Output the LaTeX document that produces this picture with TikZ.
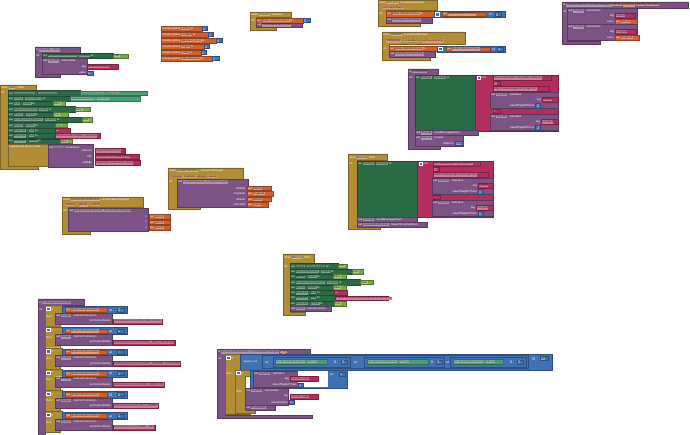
\documentclass[tikz,border=0pt]{standalone}
\usepackage{fontspec}
\setmainfont{Liberation Sans}
\definecolor{cEvt}{HTML}{B18E35}
\definecolor{cProc}{HTML}{7C5385}
\definecolor{cComp}{HTML}{2B6A46}
\definecolor{cGet}{HTML}{4A9E74}
\definecolor{cTxt}{HTML}{B32D5E}
\definecolor{cVar}{HTML}{D05F2D}
\definecolor{cMath}{HTML}{3F71B5}
\definecolor{cLogic}{HTML}{77AB41}
\newcounter{lb}
\newcommand\cur{cProc}
\newcommand\fd[1]{{\setlength\fboxsep{.35pt}\colorbox{\cur!62!white}{\color{black!85}#1}}}
\newcommand\fv[1]{{\setlength\fboxsep{.35pt}\colorbox{cVar!65!white}{\color{black!85}#1}}}
\newcommand\blk[6]{\filldraw[fill=#5,draw=#5!70!black,line width=.2pt] (#1,#2) rectangle ++(#3,#4);
  \stepcounter{lb}\node[lbl,anchor=west] (b\arabic{lb}) at ({#1+.8},{#2+min(#4/2,2.6)}) {\renewcommand\cur{#5}#6};}
\newcommand\hd[4]{\stepcounter{lb}\node[lbl,anchor=west] (h\arabic{lb}) at (#1,#2) {\renewcommand\cur{#4}#3};}
\newcommand\lab[3]{\stepcounter{lb}\node[lbl,anchor=east] (r\arabic{lb}) at (#1,#2) {#3};}
\newcommand\csh[8]{\filldraw[fill=#8,draw=#8!70!black,line width=.2pt] (#1,#2) -| (#3,#4) -| (#5,{#6-3}) -| (#7,#6) -| (#1,#2) -- cycle;}
\newcommand\gear[2]{\filldraw[fill=cMath,draw=white,line width=.2pt] (#1,#2) rectangle ++(3.2,3.2);}
\begin{document}
\begin{tikzpicture}[x=1pt,y=-1pt,
lbl/.style={font=\fontsize{2.8}{3}\selectfont,text=white,inner sep=0pt}]
\useasboundingbox (0,0) rectangle (690,435);
\fill[white] (0,0) rectangle (690,435);

\csh{35}{47}{80}{53}{42}{77.5}{60}{cProc}
\hd{36}{50}{to \fd{Recorder\_Timer}}{cProc}
\hd{36}{56}{do}{cProc}
\blk{42}{53.5}{71}{5}{cComp}{set \fd{AccelerometerSensor1} . \fd{Enabled} to}
\blk{113}{53.8}{15}{4.5}{cLogic}{\fd{true}}
\blk{42}{58.5}{45}{16}{cProc}{call \fd{TinyDB1} . StoreValue}
\lab{86}{67}{tag}
\lab{86}{73}{value}
\blk{87}{64.5}{31}{5}{cTxt}{\fd{DeteccionActiva}}
\blk{87}{70.8}{6}{4.3}{cMath}{\fd{0}}

\csh{0}{85}{36}{90.5}{8}{169.5}{38}{cEvt}
\hd{1}{87.8}{when \fd{Start} . Click}{cEvt}
\hd{1}{93}{do}{cEvt}
\blk{8}{90.5}{72}{5.2}{cComp}{set \fd{LocationSensor1} . \fd{TimeInterval} to}
\blk{80}{90.8}{67}{4.6}{cGet}{\fd{SelectorIntervalo1} . \fd{Selection}}
\blk{8}{95.85}{62}{5.2}{cComp}{set \fd{Clock1} . \fd{TimerInterval} to}
\blk{70}{96.1}{70}{4.6}{cGet}{\fd{SelectorIntervalo2} . \fd{Selection}}
\blk{8}{101.2}{45}{5.2}{cComp}{set \fd{Start} . \fd{Visible} to}
\blk{53}{101.5}{12}{4.6}{cLogic}{\fd{false}}
\blk{8}{106.55}{67}{5.2}{cComp}{set \fd{SelectorIntervalo1} . \fd{Visible} to}
\blk{75}{106.85}{15}{4.6}{cLogic}{\fd{false}}
\blk{8}{111.9}{45}{5.2}{cComp}{set \fd{Boton1} . \fd{Visible} to}
\blk{53}{112.2}{15}{4.6}{cLogic}{\fd{true}}
\blk{8}{117.25}{74}{5.2}{cComp}{set \fd{AccelerometerSensor1} . \fd{Enabled} to}
\blk{82}{117.55}{10}{4.6}{cLogic}{\fd{true}}
\blk{8}{122.6}{47}{5.2}{cComp}{set \fd{Boton2} . \fd{Visible} to}
\blk{55}{122.9}{12}{4.6}{cLogic}{\fd{true}}
\blk{8}{127.95}{47}{5.2}{cComp}{set \fd{Etiqueta1} . \fd{Text} to}
\blk{55}{128.25}{15}{4.6}{cTxt}{\fd{...}}
\blk{8}{133.3}{47}{5.2}{cComp}{set \fd{Etiqueta2} . \fd{Text} to}
\blk{55}{133.6}{45}{4.6}{cTxt}{\fd{Monitoreando caidas y ubicacion}}
\blk{8}{138.65}{52}{5.2}{cComp}{set \fd{Etiqueta3} . \fd{Visible} to}
\blk{60}{138.95}{12}{4.6}{cLogic}{\fd{false}}
\blk{8}{144}{42}{22.5}{cEvt}{evaluate but ignore result}
\blk{48}{144.5}{45}{22.5}{cProc}{call \fd{Aviso1} . CrearAviso}
\lab{92}{151}{channel}
\lab{92}{157}{title}
\lab{92}{163}{subtitle}
\blk{95}{148.5}{30}{4.8}{cTxt}{\fd{Seguimiento Activo}}
\blk{95}{154.5}{44}{4.8}{cTxt}{\fd{Deteccion de caidas activa}}
\blk{95}{160.5}{45}{4.8}{cTxt}{\fd{Siguiendo tu ubicacion ahora}}

\blk{161}{26}{41}{4.8}{cVar}{initialize global \fd{Latitud} to}
\blk{202}{26.4}{5.5}{4}{cMath}{\fd{0}}
\blk{161}{32}{47}{4.8}{cVar}{initialize global \fd{Longitud} to}
\blk{208}{32.4}{5.5}{4}{cMath}{\fd{0}}
\blk{161}{38}{55}{4.8}{cVar}{initialize global \fd{Magnitud\_Accel} to}
\blk{216}{38.4}{6}{4}{cMath}{\fd{0}}
\blk{161}{44}{43}{4.8}{cVar}{initialize global \fd{Angulo} to}
\blk{204}{44.4}{5.5}{4}{cMath}{\fd{0}}
\blk{161}{50}{40}{4.8}{cVar}{initialize global \fd{Caida} to}
\blk{201}{50.4}{5.5}{4}{cMath}{\fd{0}}
\blk{161}{56}{51}{4.8}{cVar}{initialize global \fd{IndicePermisos} to}
\blk{212}{56.4}{7}{4}{cMath}{\fd{1}}

\csh{250}{12}{291}{17.5}{256}{30.5}{276}{cEvt}
\hd{251}{14.8}{when \fd{Screen1} . Initialize}{cEvt}
\hd{251}{20.3}{do}{cEvt}
\blk{256}{17.8}{47}{5}{cVar}{set \fd{global IndicePermisos} to}
\blk{303}{18.2}{7}{4.2}{cMath}{\fd{1}}
\blk{256}{22.8}{46}{4.8}{cProc}{call \fd{PedirSiguientePermiso}}

\csh{378}{0}{437}{10.5}{386}{26}{420}{cEvt}
\hd{379}{2.7}{when \fd{Screen1} . PermissionGranted}{cEvt}
\hd{382}{7.6}{\fv{permissionName}}{cEvt}
\hd{379}{14}{do}{cEvt}
\blk{386}{11}{48}{6}{cVar}{set \fd{global IndicePermisos} to}
\blk{434}{11}{71}{6.5}{cMath}{}
\gear{435.5}{12.6}
\blk{442}{12}{44}{4.5}{cVar}{get \fd{global IndicePermisos}}
\hd{489}{14.3}{\fd{+}}{cMath}
\blk{495}{12.3}{6}{4}{cMath}{\fd{1}}
\blk{386}{17.5}{46}{5.5}{cProc}{call \fd{PedirSiguientePermiso}}

\csh{382}{32}{465}{44.5}{389}{60}{430}{cEvt}
\hd{383}{35}{when \fd{Screen1} . PermissionDenied}{cEvt}
\hd{386}{41}{\fv{component}\ \ \fv{functionName}\ \ \fv{permissionName}}{cEvt}
\hd{383}{48.5}{do}{cEvt}
\blk{389}{46}{48}{5.5}{cVar}{set \fd{global IndicePermisos} to}
\blk{437}{45.8}{68}{6.5}{cMath}{}
\gear{438.5}{47.4}
\blk{446}{46.8}{44}{4.5}{cVar}{get \fd{global IndicePermisos}}
\hd{492}{49.1}{\fd{+}}{cMath}
\blk{497}{47}{6}{4}{cMath}{\fd{1}}
\blk{389}{51.5}{46}{5.5}{cProc}{call \fd{PedirSiguientePermiso}}

\csh{562}{2}{688}{8.5}{567}{44}{600}{cProc}
\hd{563}{5.2}{to \fd{LocationSensor1\_LocationChanged}\ \fv{latitude}\ \fv{longitude}\ \fv{altitude}\ \fv{velocidad}}{cProc}
\hd{563}{11.5}{do}{cProc}
\blk{567}{8.5}{70}{16}{cProc}{call \fd{TinyDB1} . StoreValue}
\lab{614}{15.7}{tag}
\blk{615}{13.2}{20}{5}{cTxt}{\fd{Latitud}}
\lab{614}{21.3}{value}
\blk{615}{18.8}{22}{5}{cVar}{get \fd{latitude}}
\blk{567}{24.5}{70}{16}{cProc}{call \fd{TinyDB1} . StoreValue}
\lab{614}{31.7}{tag}
\blk{615}{29.2}{21}{5}{cTxt}{\fd{Longitud}}
\lab{614}{37.3}{value}
\blk{615}{34.8}{24}{5}{cVar}{get \fd{longitude}}

\csh{408}{69}{438}{75}{415}{149}{440}{cProc}
\hd{409}{72}{to \fd{EnviarSMS}}{cProc}
\hd{409}{78}{do}{cProc}
\blk{415}{75}{60}{55}{cComp}{set \fd{Texting1} . \fd{Message} to}
\blk{475}{75}{83}{56}{cTxt}{}
\gear{477}{76}
\hd{481.5}{77.7}{join}{cTxt}
\blk{493}{75.5}{58}{4.8}{cTxt}{\fd{Se ha detectado una posible caida en:}}
\blk{493}{81}{7}{4.5}{cTxt}{\fd{\textbackslash n}}
\blk{493}{86.5}{56}{4.8}{cTxt}{\fd{https://www.google.com/maps?q=}}
\blk{490}{92}{68}{16}{cProc}{call \fd{TinyDB1} . GetValue}
\lab{541}{100}{tag}
\blk{542}{97.5}{16}{4.8}{cTxt}{\fd{Latitud}}
\lab{534.5}{105.5}{valueIfTagNotThere}
\blk{535.5}{103.3}{5}{4.4}{cMath}{\fd{0}}
\blk{493}{108.8}{7}{4.5}{cTxt}{\fd{,}}
\blk{490}{114}{68}{16}{cProc}{call \fd{TinyDB1} . GetValue}
\lab{540}{122}{tag}
\blk{541}{119.5}{17}{4.8}{cTxt}{\fd{Longitud}}
\lab{534.5}{127.5}{valueIfTagNotThere}
\blk{535.5}{125.3}{5}{4.4}{cMath}{\fd{0}}
\blk{415}{130.5}{63}{5}{cProc}{call \fd{Texting1} . SendMessageDirect}
\blk{415}{135.5}{48}{10.5}{cProc}{call \fd{Espera1} . Pausar}
\lab{454}{143.3}{millisecs}
\blk{455}{141.2}{8}{4.2}{cMath}{\fd{500}}

\csh{348}{154}{387}{160.5}{357}{229}{380}{cEvt}
\hd{349}{157.2}{when \fd{Boton2} . Click}{cEvt}
\hd{349}{163.5}{do}{cEvt}
\blk{357}{161}{60}{56}{cComp}{set \fd{Texting1} . \fd{Message} to}
\blk{417}{161}{76}{56.5}{cTxt}{}
\gear{419}{162}
\hd{423.5}{163.7}{join}{cTxt}
\blk{433}{161.5}{47}{4.8}{cTxt}{\fd{Se ha detectado una caida en:}}
\blk{433}{167}{6.5}{4.5}{cTxt}{\fd{\textbackslash n}}
\blk{433}{172.5}{55}{4.8}{cTxt}{\fd{https://www.google.com/maps?q=}}
\blk{432}{178}{61}{16.5}{cProc}{call \fd{TinyDB1} . GetValue}
\lab{477}{186}{tag}
\blk{478}{183.5}{15}{4.8}{cTxt}{\fd{Latitud}}
\lab{477}{191.7}{valueIfTagNotThere}
\blk{478}{189.6}{5}{4.2}{cMath}{\fd{0}}
\blk{433}{195}{7}{4.5}{cTxt}{\fd{,}}
\blk{432}{200}{61}{16.5}{cProc}{call \fd{TinyDB1} . GetValue}
\lab{475}{208}{tag}
\blk{476}{205.5}{17}{4.8}{cTxt}{\fd{Longitud}}
\lab{477}{213.7}{valueIfTagNotThere}
\blk{478}{211.6}{5}{4.2}{cMath}{\fd{0}}
\blk{357}{217}{60}{5}{cProc}{call \fd{Texting1} . SendMessageDirect}
\blk{357}{222}{70}{5}{cProc}{call \fd{LlamadaTelefonica1} . MakePhoneCallDirect}

\csh{168}{168}{243}{179}{177}{209.5}{200}{cEvt}
\hd{169}{171}{when \fd{LocationSensor1} . LocationChanged}{cEvt}
\hd{172}{176.3}{\fv{latitude}\ \ \fv{longitude}\ \ \fv{altitude}\ \ \fv{speed}}{cEvt}
\hd{169}{182}{do}{cEvt}
\blk{177}{179.5}{71}{27.5}{cProc}{call \fd{LocationSensor1\_LocationChanged}}
\lab{245.5}{188.3}{latitude}
\lab{245.5}{193.8}{longitude}
\lab{245.5}{199.3}{altitude}
\lab{245.5}{204.8}{velocidad}
\blk{247}{186}{24}{4.6}{cVar}{get \fd{latitude}}
\blk{247}{191.5}{26}{4.6}{cVar}{get \fd{longitude}}
\blk{247}{197}{24}{4.6}{cVar}{get \fd{altitude}}
\blk{247}{202.5}{21}{4.6}{cVar}{get \fd{speed}}

\csh{62}{197}{143}{207.5}{68}{234}{90}{cEvt}
\hd{63}{200}{when \fd{AccelerometerSensor1} . AccelerationChanged}{cEvt}
\hd{66}{205.2}{\fv{xAccel}\quad\ \fv{yAccel}\quad\ \fv{zAccel}}{cEvt}
\hd{63}{211}{do}{cEvt}
\blk{68}{208}{80}{23.5}{cProc}{call \fd{AccelerometerSensor1\_AccelerationChanged}}
\lab{147}{216.8}{x}
\lab{147}{222.3}{y}
\lab{147}{227.8}{z}
\blk{149}{214.5}{21}{4.6}{cVar}{get \fd{xAccel}}
\blk{149}{220}{21}{4.6}{cVar}{get \fd{yAccel}}
\blk{149}{225.5}{21}{4.6}{cVar}{get \fd{zAccel}}

\csh{283}{254}{314}{263.5}{290}{315}{305}{cEvt}
\hd{284}{257.5}{when \fd{Boton1} . Click}{cEvt}
\hd{284}{266}{do}{cEvt}
\blk{290}{263.5}{48}{5.2}{cComp}{set \fd{Clock1} . \fd{TimerEnabled} to}
\blk{338}{263.8}{9}{4.6}{cLogic}{\fd{true}}
\blk{290}{268.85}{62}{5.2}{cComp}{set \fd{SelectorIntervalo1} . \fd{Visible} to}
\blk{352}{269.15}{11}{4.6}{cLogic}{\fd{true}}
\blk{290}{274.2}{43}{5.2}{cComp}{set \fd{Boton1} . \fd{Visible} to}
\blk{333}{274.5}{13}{4.6}{cLogic}{\fd{false}}
\blk{290}{279.55}{70}{5.2}{cComp}{set \fd{AccelerometerSensor1} . \fd{Enabled} to}
\blk{360}{279.85}{13}{4.6}{cLogic}{\fd{false}}
\blk{290}{284.9}{43}{5.2}{cComp}{set \fd{Boton2} . \fd{Visible} to}
\blk{333}{285.2}{13}{4.6}{cLogic}{\fd{false}}
\blk{290}{290.25}{44}{5.2}{cComp}{set \fd{Etiqueta1} . \fd{Text} to}
\blk{334}{290.55}{13}{4.6}{cTxt}{\fd{...}}
\blk{290}{295.6}{45}{5.2}{cComp}{set \fd{Etiqueta2} . \fd{Text} to}
\blk{335}{295.9}{53}{4.6}{cTxt}{\fd{Presiona Iniciar para comenzar el monitoreo}}
\blk{290}{300.95}{44}{5.2}{cComp}{set \fd{Etiqueta3} . \fd{Visible} to}
\blk{334}{301.25}{12}{4.6}{cLogic}{\fd{true}}
\blk{290}{306.3}{41}{5}{cProc}{call \fd{Aviso1} . CancelarAviso}

\csh{38}{299}{84}{305.5}{45}{440}{50}{cProc}
\hd{39}{302.3}{to \fd{PedirSiguientePermiso}}{cProc}
\hd{39}{309}{do}{cProc}
\foreach \i/\perm in {0/RECORD\_AUDIO,1/ACCESS\_FINE\_LOCATION,2/ACCESS\_COARSE\_LOCATION,3/READ\_CONTACTS,4/CALL\_PHONE,5/SEND\_SMS}{
  \pgfmathsetmacro\t{305.5+21.2*\i}
  \pgfmathtruncatemacro\n{\i+1}
  \csh{45}{\t}{62}{\t+7.5}{55}{\t+21}{60}{cEvt}
  \gear{46.5}{\t+1.6}
  \hd{51}{\t+3.8}{if}{cEvt}
  \hd{46}{\t+10.5}{then}{cEvt}
  \blk{62}{\t+0.8}{65}{6.8}{cMath}{}
  \blk{65}{\t+1.9}{42}{4.6}{cVar}{get \fd{global IndicePermisos}}
  \hd{109}{\t+4.2}{\fd{=}}{cMath}
  \blk{117}{\t+2.2}{7}{4}{cMath}{\fd{\n}}
  \blk{55}{\t+7.6}{57}{10.5}{cProc}{call \fd{Scope1} . AskForPermission}
  \lab{111}{\t+15.5}{permissionName}
  \stepcounter{lb}
  \node[lbl,anchor=north west,fill=cTxt,draw=cTxt!70!black,line width=.2pt,inner xsep=.8pt,minimum height=4.9pt] (p\arabic{lb}) at (113,\t+13.1) {\renewcommand\cur{cTxt}\fd{android.permission.\perm}};
}

\csh{217}{349}{310}{355}{225}{418}{312}{cProc}
\hd{218}{352}{to \fd{AccelerometerSensor1\_AccelerationChanged}\ \fv{x}\ \fv{y}\ \fv{z}}{cProc}
\hd{218}{358.5}{do}{cProc}
\csh{225}{354.5}{241}{370}{235}{414}{250}{cEvt}
\gear{226.5}{356}
\hd{231}{358}{if}{cEvt}
\hd{226}{373.5}{then}{cEvt}
\blk{240}{354}{312}{16}{cMath}{}
\hd{243}{362}{square root}{cMath}
\filldraw[fill=cMath,draw=cMath!70!black,line width=.2pt] (262,355.5) rectangle (528,368.5);
\hd{265}{362}{\fd{+}}{cMath}
\blk{273}{357.5}{77}{9.5}{cMath}{}
\blk{275}{359.3}{52}{5}{cGet}{\fd{AccelerometerSensor1} . \fd{XAccel}}
\hd{334}{361.8}{\fd{\^{}}}{cMath}
\blk{341}{359.8}{6}{4}{cMath}{\fd{2}}
\hd{354}{362}{\fd{+}}{cMath}
\blk{364}{357.5}{80}{9.5}{cMath}{}
\blk{367}{359.3}{61}{5}{cGet}{\fd{AccelerometerSensor1} . \fd{YAccel}}
\hd{431}{361.8}{\fd{\^{}}}{cMath}
\blk{436}{359.8}{6}{4}{cMath}{\fd{2}}
\hd{446}{362}{\fd{+}}{cMath}
\blk{450}{357.5}{76}{9.5}{cMath}{}
\blk{453}{359.3}{50}{5}{cGet}{\fd{AccelerometerSensor1} . \fd{ZAccel}}
\hd{510}{361.8}{\fd{\^{}}}{cMath}
\blk{517}{359.8}{6}{4}{cMath}{\fd{2}}
\hd{532}{358.5}{\fd{>}}{cMath}
\blk{540}{356.5}{8}{4}{cMath}{\fd{20}}
\csh{235}{370}{251}{376.5}{245}{413}{255}{cEvt}
\gear{236.5}{371.3}
\hd{241}{373.3}{if}{cEvt}
\hd{236}{391}{then}{cEvt}
\blk{250}{370.3}{97}{17.7}{cMath}{}
\blk{253}{371}{45}{16}{cProc}{call \fd{TinyDB1} . GetValue}
\fill[white] (298,371) rectangle (328,387);
\lab{289}{378.7}{tag}
\blk{290}{376.3}{28}{4.8}{cTxt}{\fd{AlertaEnviada}}
\lab{297}{385}{valueIfTagNotThere}
\blk{298}{383}{5}{4}{cMath}{\fd{0}}
\hd{330}{374}{\fd{=}}{cMath}
\blk{339}{372}{6}{4}{cMath}{\fd{0}}
\blk{245}{388}{43}{17}{cProc}{call \fd{TinyDB1} . StoreValue}
\lab{288}{396.3}{tag}
\blk{290}{393.8}{28}{4.9}{cTxt}{\fd{AlertaEnviada}}
\lab{288}{402}{valueToStore}
\blk{289}{399.8}{5}{4.4}{cMath}{\fd{1}}
\blk{245}{405}{30}{4.8}{cProc}{call \fd{EnviarSMS}}
\end{tikzpicture}
\end{document}
